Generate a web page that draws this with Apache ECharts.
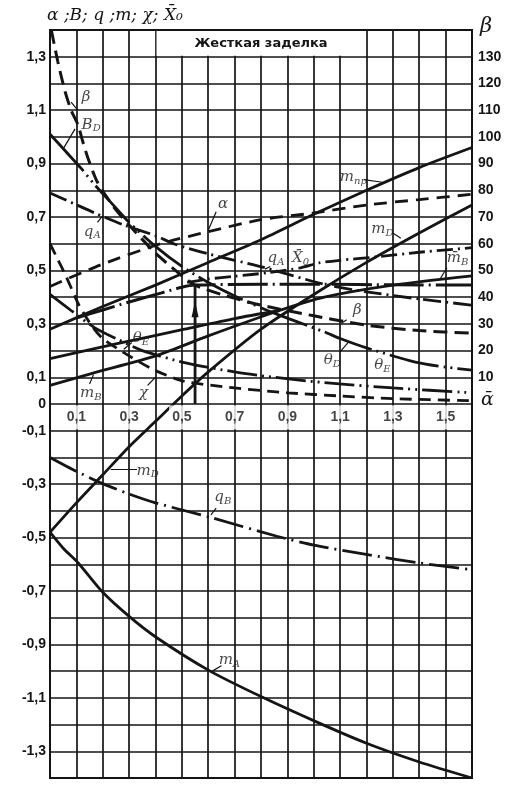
<!DOCTYPE html>
<html><head><meta charset="utf-8">
<script src="https://cdn.jsdelivr.net/npm/echarts@6/dist/echarts.min.js"></script>
<style>html,body{margin:0;padding:0;background:#fff}#c{width:525px;height:794px}</style>
</head><body><div id="c"></div>
<script>
// ---- tick labels ----
const alphaTickValues = [0.1,0.3,0.5,0.7,0.9,1.1,1.3,1.5];
const alphaTickText   = ['0,1','0,3','0,5','0,7','0,9','1,1','1,3','1,5'];
const leftTickValues  = [1.3,1.1,0.9,0.7,0.5,0.3,0.1,0,-0.1,-0.3,-0.5,-0.7,-0.9,-1.1,-1.3];
const leftTickText    = ['1,3','1,1','0,9','0,7','0,5','0,3','0,1','0','-0,1','-0,3','-0,5','-0,7','-0,9','-1,1','-1,3'];
const betaTickValues  = [10,20,30,40,50,60,70,80,90,100,110,120,130];

// ---- curves: [alpha, value] (beta in degrees on right scale) ----
const betaCurve = [[0.005,140],[0.03,128],[0.057,117],[0.08,110],[0.106,104.5],[0.125,98],[0.144,92],[0.18,83],[0.24,74],[0.3,67],[0.4,56.5],[0.5,48],[0.55,44.5],[0.65,41],[0.8,37],[1.0,33],[1.2,29.5],[1.4,27.5],[1.6,26.5]];
const thetaD = [[0,1.01],[0.06,0.945],[0.12,0.88],[0.17,0.82],[0.235,0.75],[0.3,0.68],[0.4,0.59],[0.5,0.515],[0.6,0.455],[0.72,0.395],[0.85,0.34],[1.04,0.27],[1.1,0.245],[1.2,0.21],[1.385,0.157],[1.5,0.138],[1.6,0.127]];
const qA = [[0,0.79],[0.095,0.748],[0.17,0.715],[0.28,0.67],[0.4,0.63],[0.474,0.598],[0.6,0.562],[0.815,0.51],[1.04,0.448],[1.2,0.42],[1.4,0.393],[1.6,0.37]];
const alphaC = [[0,0.44],[0.19,0.52],[0.42,0.60],[0.6,0.645],[0.8,0.69],[1.0,0.715],[1.2,0.745],[1.4,0.765],[1.6,0.785]];
const mPr = [[0,0.28],[0.2,0.365],[0.4,0.445],[0.6,0.53],[0.8,0.615],[1.0,0.71],[1.2,0.8],[1.4,0.885],[1.6,0.96]];
const mD = [[0,-0.48],[0.1,-0.37],[0.2,-0.265],[0.3,-0.16],[0.4,-0.065],[0.5,0.03],[0.6,0.12],[0.8,0.28],[1.0,0.41],[1.2,0.53],[1.4,0.64],[1.6,0.745]];
const chi = [[0,0.6],[0.03,0.54],[0.06,0.48],[0.11,0.37],[0.16,0.29],[0.2,0.245],[0.3,0.18],[0.4,0.125],[0.51,0.085],[0.7,0.06],[0.9,0.042],[1.1,0.03],[1.3,0.02],[1.6,0.012]];
const thetaE = [[0,0.41],[0.08,0.35],[0.17,0.285],[0.25,0.245],[0.35,0.2],[0.51,0.155],[0.7,0.12],[0.85,0.1],[1.04,0.08],[1.3,0.06],[1.6,0.042]];
const mB = [[0,0.07],[0.16,0.115],[0.4,0.18],[0.6,0.255],[0.87,0.35],[1.04,0.40],[1.3,0.445],[1.6,0.48]];
const mB2 = [[0,0.17],[0.25,0.225],[0.51,0.28],[0.7,0.32],[0.87,0.35]];
const x0 = [[0.52,0.455],[0.6,0.468],[0.7,0.478],[0.83,0.492],[0.95,0.51],[1.02,0.528],[1.1,0.538],[1.23,0.55],[1.4,0.568],[1.6,0.585]];
const plateau = [[0.1,0.322],[0.2,0.352],[0.3,0.382],[0.42,0.415],[0.5,0.437],[0.55,0.445],[0.8,0.448],[1.04,0.448],[1.3,0.446],[1.6,0.445]];
const qB = [[0,-0.2],[0.1,-0.252],[0.2,-0.298],[0.3,-0.337],[0.4,-0.37],[0.61,-0.425],[0.86,-0.495],[1.0,-0.528],[1.21,-0.565],[1.4,-0.595],[1.6,-0.62]];
const mA = [[0,-0.48],[0.05,-0.54],[0.107,-0.595],[0.2,-0.705],[0.3,-0.795],[0.405,-0.875],[0.607,-1.0],[0.81,-1.1],[1.01,-1.19],[1.2,-1.27],[1.4,-1.34],[1.6,-1.4]];
const readingArrow = [[0.55,0],[0.55,0.445]];

// ---- curve labels: [alpha, value, rich text] ----
const curveLabels = [
  [0.137,1.15,'{i|β}'],
  [0.156,1.045,'{i|B}{s|D}'],
  [0.16,0.645,'{i|q}{s|A}'],
  [0.656,0.75,'{i|α}'],
  [1.15,0.85,'{i|m}{s|пр}'],
  [1.26,0.655,'{i|m}{s|D}'],
  [0.857,0.545,'{i|q}{s|A}'],
  [0.95,0.545,'{i|X\u0304}{s|0}'],
  [1.545,0.545,'{i|m\u0304}{s|B}'],
  [1.165,0.35,'{i|β}'],
  [1.07,0.165,'{i|θ}{s|D}'],
  [1.26,0.145,'{i|θ}{s|E}'],
  [0.345,0.245,'{i|θ}{s|E}'],
  [0.155,0.04,'{i|m}{s|B}'],
  [0.355,0.04,'{i|χ}'],
  [0.37,-0.25,'{i|m}{s|D}'],
  [0.655,-0.35,'{i|q}{s|B}'],
  [0.68,-0.96,'{i|m}{s|A}']
];
const leaders = [
  [[0.08,1.13],[0.105,1.10]],
  [[0.095,1.03],[0.05,0.955]],
  [[0.18,0.68],[0.2,0.705]],
  [[0.63,0.72],[0.6,0.65]],
  [[1.19,0.84],[1.26,0.83]],
  [[1.30,0.64],[1.33,0.62]],
  [[0.835,0.515],[0.815,0.505]],
  [[1.505,0.51],[1.48,0.47]],
  [[1.125,0.315],[1.105,0.302]],
  [[1.1,0.195],[1.13,0.23]],
  [[0.31,0.23],[0.28,0.205]],
  [[0.15,0.075],[0.165,0.11]],
  [[0.37,0.07],[0.4,0.1]],
  [[0.23,-0.243],[0.33,-0.243]],
  [[0.63,-0.39],[0.61,-0.415]],
  [[0.65,-0.98],[0.615,-1.0]]
];

const INK = '#151515';
const chart = echarts.init(document.getElementById('c'), null, {renderer:'canvas'});
function curve(name, data, dash, width, yIdx) {
  return {
    name, type:'line', data, yAxisIndex: yIdx||0, showSymbol:false, symbol:'none',
    smooth:0.25, animation:false, z:3,
    lineStyle:{color:INK, width: width||2.8, type: dash||'solid', cap:'butt'}
  };
}
const richStyle = {
  i:{fontFamily:'DejaVu Serif', fontStyle:'italic', fontSize:15, color:INK},
  s:{fontFamily:'DejaVu Serif', fontStyle:'italic', fontSize:10, color:INK, padding:[8,0,0,0]}
};
const alphaSeries = curve('α', alphaC, [13,8]);
alphaSeries.markArea = {
  silent:true,
  itemStyle:{color:'#fff', borderWidth:0},
  label:{show:true, position:'inside', formatter:'Жесткая заделка', fontFamily:'DejaVu Sans', fontWeight:'bold', fontSize:13, color:INK},
  data:[[{coord:[0.404,1.304]},{coord:[1.196,1.396]}]]
};

const option = {
  backgroundColor:'#fff',
  animation:false,
  grid:{left:50, right:53, top:30, bottom:16, show:true, borderColor:INK, borderWidth:2, containLabel:false},
  xAxis:{type:'value', min:0, max:1.6, interval:0.1,
    axisLine:{show:false}, axisTick:{show:false}, axisLabel:{show:false},
    splitLine:{show:true, lineStyle:{color:INK, width:1.7}}},
  yAxis:[
    {type:'value', min:-1.4, max:1.4, interval:0.1,
      axisLine:{show:false}, axisTick:{show:false},
      axisLabel:{margin:4, fontFamily:'Liberation Sans', fontWeight:'bold', fontSize:14, color:INK,
        formatter:v=>{const k=leftTickValues.findIndex(t=>Math.abs(t-v)<1e-6); return k<0?'':leftTickText[k];}},
      splitLine:{show:true, lineStyle:{color:INK, width:1.7}}},
    {type:'value', position:'right', min:-140, max:140, interval:10,
      axisLine:{show:false}, axisTick:{show:false}, splitLine:{show:false},
      axisLabel:{margin:6, fontFamily:'Liberation Sans', fontWeight:'bold', fontSize:14, color:INK,
        formatter:v=>betaTickValues.some(t=>Math.abs(t-v)<1e-6)?String(Math.round(v)):''}}
  ],
  graphic:[
    {type:'text', left:47, top:7, style:{text:'α ;B; q ;m; χ; X\u0304\u2080', font:'italic 17px "DejaVu Serif"', fill:INK}},
    {type:'text', left:480, top:16, style:{text:'β', font:'italic 21px "DejaVu Serif"', fill:INK}},
    {type:'text', left:481, top:391, style:{text:'ᾱ', font:'italic 19px "DejaVu Serif"', fill:INK}}
  ],
  series:[
    curve('β', betaCurve, [14,7], 3, 1),
    curve('θD', thetaD, [50,5,2,5,2,5]),
    curve('qA', qA, [18,5,2,5]),
    alphaSeries,
    curve('mпр', mPr),
    curve('mD', mD),
    curve('χ', chi, [12,7]),
    curve('θE', thetaE, [30,5,2,5,2,5]),
    curve('mB', mB),
    curve('mB2', mB2),
    curve('X0', x0, [16,5,2,5]),
    curve('plateau', plateau, [40,5,2,5], 3),
    curve('qB', qB, [30,6,2,6]),
    curve('mA', mA),
    {type:'line', data:readingArrow, showSymbol:false, symbol:'none', z:4, lineStyle:{color:INK, width:2.8},
      markPoint:{symbol:'triangle', symbolSize:[7,16], silent:true, itemStyle:{color:INK}, label:{show:false},
        data:[{coord:[0.55,0.355]}]}},
    {type:'lines', coordinateSystem:'cartesian2d', z:4, silent:true,
      lineStyle:{color:INK, width:1.2, opacity:1},
      data:leaders.map(c=>({coords:c}))},
    {type:'scatter', z:10, symbolSize:1, itemStyle:{color:'rgba(0,0,0,0)'}, silent:true,
      data:curveLabels.map(l=>({value:[l[0],l[1]], name:l[2]})),
      label:{show:true, position:'inside', formatter:p=>p.name, rich:richStyle}},
    {type:'scatter', z:11, symbolSize:1, itemStyle:{color:'rgba(0,0,0,0)'}, silent:true,
      data:alphaTickValues.map((a,i)=>({value:[a,-0.05], name:alphaTickText[i]})),
      label:{show:true, position:'inside', formatter:p=>p.name, fontFamily:'Liberation Sans', fontWeight:'bold',
        fontSize:14, color:INK, backgroundColor:'#fff', padding:[5,3]}}
  ]
};
chart.setOption(option);
</script></body></html>
